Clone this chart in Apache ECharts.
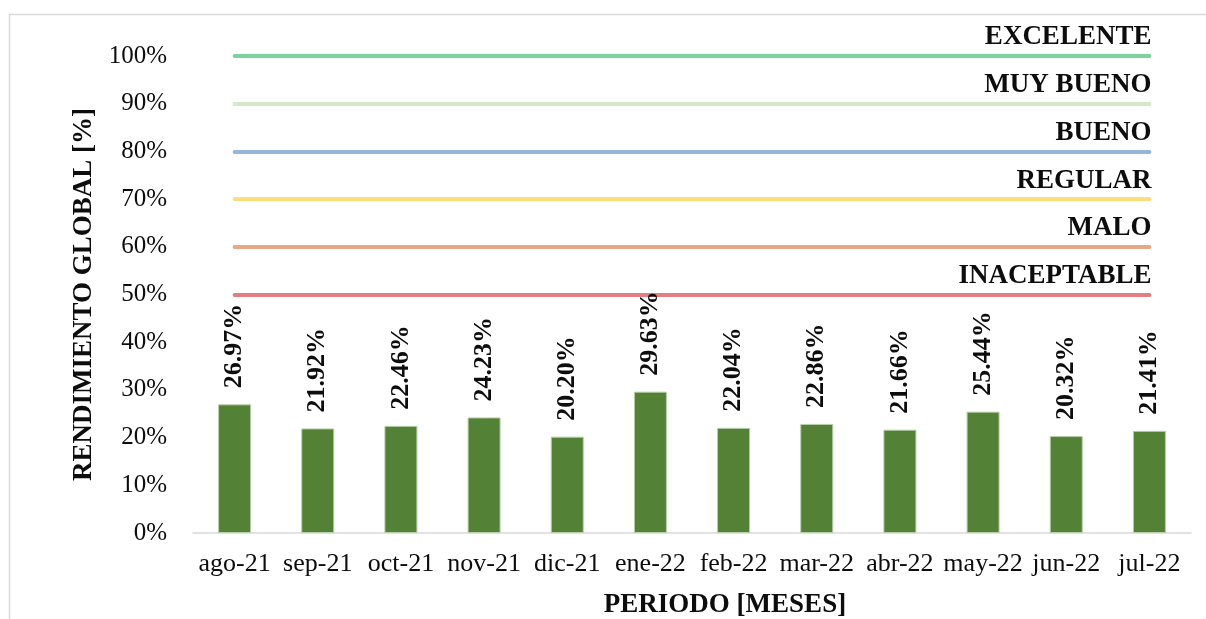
<!DOCTYPE html>
<html>
<head>
<meta charset="utf-8">
<script src="https://cdn.jsdelivr.net/npm/echarts@6/dist/echarts.min.js"></script>
<style>
  html, body { margin: 0; padding: 0; background: #ffffff; }
  #chart { width: 1206px; height: 619px; }
</style>
</head>
<body>
<div id="chart"></div>
<script>
// Monthly global performance, Aug 2021 – Jul 2022
var months = ['ago-21', 'sep-21', 'oct-21', 'nov-21', 'dic-21', 'ene-22',
              'feb-22', 'mar-22', 'abr-22', 'may-22', 'jun-22', 'jul-22'];
var rendimiento = [26.97, 21.92, 22.46, 24.23, 20.20, 29.63,
                   22.04, 22.86, 21.66, 25.44, 20.32, 21.41];

// Rating bands (threshold value, label, colour)
var bandNames  = ['EXCELENTE', 'MUY BUENO', 'BUENO', 'REGULAR', 'MALO', 'INACEPTABLE'];
var bandValues = [100, 90, 80, 70, 60, 50];
var bandColors = ['#7dd3a0', '#d5e8c9', '#95b8da', '#ffdc7c', '#e6a985', '#e57e81'];

var yTicks = [0, 10, 20, 30, 40, 50, 60, 70, 80, 90, 100];

var serif = '"Liberation Serif", "Times New Roman", serif';
var ink = '#0d0d0d';

var bandLines = bandNames.map(function (name, i) {
  return [
    { coord: [months[0], bandValues[i]],
      lineStyle: { color: bandColors[i], width: 4, cap: 'round', type: 'solid' },
      label: { show: true, formatter: name } },
    { coord: [months[months.length - 1], bandValues[i]] }
  ];
});

var chart = echarts.init(document.getElementById('chart'), null, { renderer: 'canvas' });

chart.setOption({
  animation: false,
  backgroundColor: '#ffffff',
  textStyle: { fontFamily: serif },
  graphic: [{
    type: 'rect',
    shape: { x: 9.5, y: 14.5, width: 1400, height: 800 },
    style: { fill: 'none', stroke: '#d9d9d9', lineWidth: 1.5 },
    silent: true
  }],
  grid: { left: 193, right: 15, top: 56, bottom: 86, containLabel: false, outerBoundsMode: 'none' },
  xAxis: {
    type: 'category',
    data: months,
    axisLine: { show: true, lineStyle: { color: '#d9d9d9', width: 1.5 } },
    axisTick: { show: false },
    axisLabel: { color: ink, fontFamily: serif, fontSize: 26, margin: 18, interval: 0 },
    name: 'PERIODO [MESES]',
    nameLocation: 'middle',
    nameGap: 59,
    nameTextStyle: { color: ink, fontFamily: serif, fontSize: 27, fontWeight: 'bold', padding: [0, 0, 0, 66] }
  },
  yAxis: {
    type: 'value',
    min: 0,
    max: 100,
    interval: 10,
    splitLine: { show: false },
    axisLine: { show: false },
    axisTick: { show: false },
    axisLabel: {
      color: ink, fontFamily: serif, fontSize: 25, margin: 26,
      formatter: function (v) { return yTicks.indexOf(v) >= 0 ? v + '%' : ''; }
    },
    name: 'RENDIMIENTO GLOBAL [%]',
    nameLocation: 'middle',
    nameGap: 89,
    nameTextStyle: { color: ink, fontFamily: serif, fontSize: 27, fontWeight: 'bold' }
  },
  series: [{
    type: 'bar',
    data: rendimiento,
    barWidth: 33,
    z: 3,
    itemStyle: { color: '#538135', borderColor: '#b7cfa8', borderWidth: 1 },
    label: {
      show: true,
      position: 'top',
      rotate: 90,
      align: 'left',
      verticalAlign: 'middle',
      distance: 16,
      color: ink,
      fontFamily: serif,
      fontSize: 26,
      fontWeight: 'bold',
      formatter: function (p) { return p.value.toFixed(2) + '%'; }
    },
    markLine: {
      silent: true,
      symbol: 'none',
      z: 1,
      label: {
        position: 'insideEndTop',
        distance: 5,
        offset: [7, 0],
        color: ink,
        fontFamily: serif,
        fontSize: 27,
        fontWeight: 'bold'
      },
      data: bandLines
    }
  }]
});
</script>
</body>
</html>
